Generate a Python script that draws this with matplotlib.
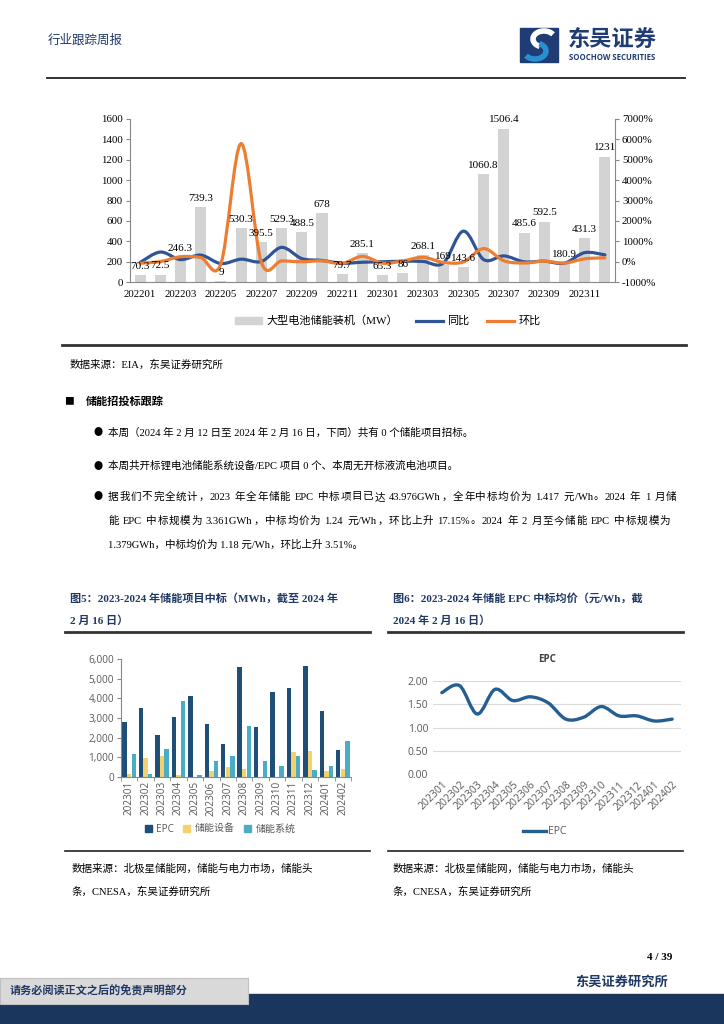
import re
import matplotlib
matplotlib.use("Agg")
import matplotlib.pyplot as plt
from matplotlib.lines import Line2D
from matplotlib.patches import Patch, Rectangle, PathPatch, Arc
from matplotlib.path import Path
from matplotlib.font_manager import FontProperties

SERIF = ['Liberation Serif', 'Noto Sans CJK SC']
SANS = ['Open Sans', 'Noto Sans CJK SC']
plt.rcParams['font.family'] = SERIF

# ---- data: top chart (EIA large battery storage installs) ----
months_22_23 = ['202201', '202202', '202203', '202204', '202205', '202206',
                '202207', '202208', '202209', '202210', '202211', '202212',
                '202301', '202302', '202303', '202304', '202305', '202306',
                '202307', '202308', '202309', '202310', '202311', '202312']
install_mw = [70.3, 72.5, 246.3, 739.3, 9, 530.3, 395.5, 529.3, 488.5, 678, 79.7, 285.1,
              65.3, 86, 268.1, 169, 143.6, 1060.8, 1506.4, 485.6, 592.5, 180.9, 431.3, 1231]
yoy_pct = [-40, 470, 100, 320, -95, 120, 5, 700, 150, 60, -80, -30,
           -7, 19, 9, -77, 1496, 100, 281, -8, 21, -73, 441, 332]
mom_pct = [-80, 3, 240, 200, -99, 5792, -25, 34, -8, 39, -88, 258,
           -77, 32, 212, -37, -15, 639, 42, -68, 22, -70, 138, 185]

# ---- data: bottom charts (2023-2024 bids) ----
months_bid = ['202301', '202302', '202303', '202304', '202305', '202306', '202307',
              '202308', '202309', '202310', '202311', '202312', '202401', '202402']
epc_mwh = [2820, 3520, 2130, 3060, 4110, 2670, 1700, 5610, 2520, 4340, 4510, 5660, 3361, 1379]
equip_mwh = [140, 990, 1090, 100, 0, 310, 490, 410, 0, 0, 1260, 1340, 320, 390]
system_mwh = [1190, 150, 1430, 3880, 120, 820, 1090, 2570, 800, 540, 1090, 370, 540, 1820]
epc_price = [1.75, 1.90, 1.29, 1.82, 1.58, 1.66, 1.53, 1.18, 1.22, 1.45, 1.25, 1.25, 1.14, 1.18]

W, H = 724, 1024
fig = plt.figure(figsize=(W / 100, H / 100), dpi=100)
fig.patch.set_facecolor('white')
renderer = fig.canvas.get_renderer()


def px_axes(x0, y0, x1, y1):
    return fig.add_axes([x0 / W, 1 - y1 / H, (x1 - x0) / W, (y1 - y0) / H])


def ftext(x, y, s, **kw):
    kw.setdefault('va', 'center')
    return fig.text(x / W, 1 - y / H, s, **kw)


def justified(x0, x1, y, line, fontsize, **kw):
    # each CJK char / latin run is a token, extra room is shared between all tokens
    tokens = re.findall(r'[A-Za-z0-9./%\-]+| |.', line)
    texts, widths = [], []
    for tk in tokens:
        if tk == ' ':
            texts.append(None)
            widths.append(fontsize * 0.25 * 100 / 72)
        else:
            t = ftext(0, y, tk, fontsize=fontsize, **kw)
            texts.append(t)
            widths.append(t.get_window_extent(renderer).width)
    gap = (x1 - x0 - sum(widths)) / max(len(tokens) - 1, 1)
    xx = x0
    for t, wd in zip(texts, widths):
        if t is not None:
            t.set_x(xx / W)
        xx += wd + gap


def hline(x0, x1, y, lw, color):
    fig.add_artist(Line2D([x0 / W, x1 / W], [1 - y / H, 1 - y / H], lw=lw, color=color))


def smooth_curve(ax, xs, ys, **kw):
    pts = list(zip(xs, ys))
    n = len(pts)
    verts = [pts[0]]
    codes = [Path.MOVETO]
    for i in range(n - 1):
        p0 = pts[max(i - 1, 0)]
        p1 = pts[i]
        p2 = pts[i + 1]
        p3 = pts[min(i + 2, n - 1)]
        c1 = (p1[0] + (p2[0] - p0[0]) / 6, p1[1] + (p2[1] - p0[1]) / 6)
        c2 = (p2[0] - (p3[0] - p1[0]) / 6, p2[1] - (p3[1] - p1[1]) / 6)
        verts += [c1, c2, p2]
        codes += [Path.CURVE4] * 3
    ax.add_patch(PathPatch(Path(verts, codes), fill=False, capstyle='round',
                           joinstyle='round', **kw))


# ---------------- header ----------------
ftext(48, 40, '行业跟踪周报', fontsize=9, color='#1F3864', family=SERIF)
fig.add_artist(Rectangle((520 / W, 1 - 62 / H), 38 / W, 34 / H, color='#1F3C74',
                         transform=fig.transFigure))
fig.add_artist(Arc((544 / W, 1 - 39 / H), 22 / W, 16 / H, theta1=20, theta2=230,
                   lw=4, color='white', transform=fig.transFigure))
fig.add_artist(Arc((535 / W, 1 - 51 / H), 22 / W, 16 / H, theta1=200, theta2=50,
                   lw=4, color='#2A8FD0', transform=fig.transFigure))
ftext(568, 40, '东吴证券', fontsize=16, color='#1F3C74', family=SANS, fontweight='bold')
ftext(569, 58, 'SOOCHOW SECURITIES', fontsize=5.6, color='#1F3C74', family=SANS,
      fontweight='bold')
hline(47, 685, 78, 1.3, '#222222')

# ---------------- top chart ----------------
ax1 = px_axes(130, 119, 615, 282)
x = list(range(len(months_22_23)))
ax1.bar(x, install_mw, width=0.55, color='#D3D3D3', zorder=1)
ax1.set_xlim(-0.5, len(x) - 0.5)
ax1.set_ylim(0, 1600)
ax1.set_yticks(range(0, 1601, 200))
ax1.set_xticks(x[::2])
ax1.set_xticklabels(months_22_23[::2])
ax1.tick_params(axis='x', length=0, labelsize=7.8, pad=6)
ax1.tick_params(axis='y', length=3, color='#888888', labelsize=7.8, pad=2)
for s in ['top', 'right']:
    ax1.spines[s].set_visible(False)
ax1.spines['left'].set_color('#888888')
ax1.spines['bottom'].set_color('#888888')

ax2 = ax1.twinx()
ax2.set_ylim(-1000, 7000)
ax2.set_yticks(range(-1000, 7001, 1000))
ax2.set_yticklabels([f'{v}%' for v in range(-1000, 7001, 1000)])
ax2.tick_params(axis='y', length=3, color='#888888', labelsize=7.8, pad=2)
for s in ['top', 'left', 'bottom']:
    ax2.spines[s].set_visible(False)
ax2.spines['right'].set_color('#888888')
smooth_curve(ax2, x, yoy_pct, edgecolor='#2F5597', lw=2.3, zorder=3)
smooth_curve(ax2, x, mom_pct, edgecolor='#ED7D31', lw=2.3, zorder=4)
for xi, v in zip(x, install_mw):
    ax2.annotate(f'{v:g}', (xi, v), xycoords=ax1.transData, xytext=(0, 3),
                 textcoords='offset points', ha='center', va='bottom', fontsize=8,
                 zorder=5)

fig.legend(handles=[Patch(color='#D3D3D3', label='大型电池储能装机（MW）'),
                    Line2D([], [], color='#2F5597', lw=2.3, label='同比'),
                    Line2D([], [], color='#ED7D31', lw=2.3, label='环比')],
           loc='center', bbox_to_anchor=(388 / W, 1 - 321 / H), ncol=3, frameon=False,
           prop=FontProperties(family=SERIF, size=8), handlelength=2.4,
           handleheight=0.6, columnspacing=1.6, handletextpad=0.4)

hline(62, 686, 345, 2, '#333333')
ftext(70, 365, '数据来源：EIA，东吴证券研究所', fontsize=7.6)

# ---------------- body text ----------------
ftext(64, 402, '■', fontsize=7, family=SANS)
ftext(86, 402, '储能招投标跟踪', fontsize=8, fontweight='bold')
body = [
    (433, '本周（2024 年 2 月 12 日至 2024 年 2 月 16 日，下同）共有 0 个储能项目招标。', True, None),
    (466, '本周共开标锂电池储能系统设备/EPC 项目 0 个、本周无开标液流电池项目。', True, None),
    (497, '据我们不完全统计，2023 年全年储能 EPC 中标项目已达 43.976GWh，全年中标均价为 1.417 元/Wh。2024 年 1 月储', True, 676),
    (521, '能 EPC 中标规模为 3.361GWh，中标均价为 1.24 元/Wh，环比上升 17.15%。2024 年 2 月至今储能 EPC 中标规模为', False, 670),
    (545, '1.379GWh，中标均价为 1.18 元/Wh，环比上升 3.51%。', False, None),
]
for yy, line, bullet, right in body:
    if bullet:
        ftext(93, yy, '●', fontsize=6.5, family=SANS)
    if right is None:
        ftext(108, yy, line, fontsize=7.6)
    else:
        justified(108, right, yy, line, 7.6)

# ---------------- figure titles ----------------
navy = '#1F3864'
ftext(70, 598, '图5：2023-2024 年储能项目中标（MWh，截至 2024 年', fontsize=8,
      fontweight='bold', color=navy)
ftext(70, 621, '2 月 16 日）', fontsize=8, fontweight='bold', color=navy)
ftext(393, 598, '图6：2023-2024 年储能 EPC 中标均价（元/Wh，截', fontsize=8,
      fontweight='bold', color=navy)
ftext(393, 621, '2024 年 2 月 16 日）', fontsize=8, fontweight='bold', color=navy)
hline(65, 370, 632, 2, '#333333')
hline(388, 683, 632, 2, '#333333')

# ---------------- bottom-left chart ----------------
ax3 = px_axes(121, 659, 351, 777)
xb = list(range(len(months_bid)))
ax3.bar([i - 0.28 for i in xb], epc_mwh, width=0.27, color='#1F4E79')
ax3.bar(xb, equip_mwh, width=0.27, color='#F4D06F')
ax3.bar([i + 0.28 for i in xb], system_mwh, width=0.27, color='#4BACC6')
ax3.set_xlim(-0.5, len(xb) - 0.5)
ax3.set_ylim(0, 6000)
ax3.set_yticks(range(0, 6001, 1000))
ax3.set_yticklabels([f'{v:,}' for v in range(0, 6001, 1000)], family=SANS)
ax3.set_xticks(xb)
ax3.set_xticklabels(months_bid, rotation=90, family=SANS)
ax3.set_xticks([i - 0.5 for i in range(len(xb) + 1)], minor=True)
ax3.tick_params(axis='x', which='major', length=0, labelsize=7.2, colors='#595959', pad=3)
ax3.tick_params(axis='x', which='minor', length=3, color='#888888')
ax3.tick_params(axis='y', length=3, color='#888888', labelsize=7.2, colors='#595959', pad=2)
for s in ['top', 'right']:
    ax3.spines[s].set_visible(False)
ax3.spines['left'].set_color('#888888')
ax3.spines['bottom'].set_color('#888888')
fig.legend(handles=[Patch(color='#1F4E79', label='EPC'),
                    Patch(color='#F4D06F', label='储能设备'),
                    Patch(color='#4BACC6', label='储能系统')],
           loc='center', bbox_to_anchor=(220 / W, 1 - 829 / H), ncol=3, frameon=False,
           prop=FontProperties(family=SANS, size=7.2), handlelength=0.7,
           handleheight=0.7, columnspacing=1.0, handletextpad=0.4, labelcolor='#595959')

# ---------------- bottom-right chart ----------------
ax4 = px_axes(433, 681, 681, 774)
ax4.set_xlim(-0.5, len(xb) - 0.5)
ax4.set_ylim(0, 2.0)
ax4.set_yticks([0, 0.5, 1.0, 1.5, 2.0])
ax4.set_yticklabels([f'{v:.2f}' for v in [0, 0.5, 1.0, 1.5, 2.0]], family=SANS)
ax4.yaxis.grid(True, color='#D9D9D9', lw=0.8)
ax4.set_axisbelow(True)
for s in ax4.spines.values():
    s.set_visible(False)
ax4.set_xticks(xb)
ax4.set_xticklabels(months_bid, rotation=45, ha='right', rotation_mode='anchor', family=SANS)
ax4.tick_params(axis='both', length=0, labelsize=7.5, colors='#595959')
ax4.tick_params(axis='x', pad=4)
smooth_curve(ax4, xb, epc_price, edgecolor='#255E91', lw=2.4, zorder=3)
ftext(547, 660, 'EPC', fontsize=7, fontweight='bold', color='#404040', family=SANS,
      ha='center')
fig.legend(handles=[Line2D([], [], color='#255E91', lw=2.4, label='EPC')],
           loc='center', bbox_to_anchor=(545 / W, 1 - 832 / H), frameon=False,
           prop=FontProperties(family=SANS, size=7.5), handlelength=2.2,
           handletextpad=0.2, labelcolor='#595959')

# ---------------- sources ----------------
hline(65, 370, 851, 1.2, '#222222')
hline(388, 683, 851, 1.2, '#222222')
for xx in (72, 393):
    ftext(xx, 869, '数据来源：北极星储能网，储能与电力市场，储能头', fontsize=7.6)
    ftext(xx, 892, '条，CNESA，东吴证券研究所', fontsize=7.6)

# ---------------- footer ----------------
ftext(672, 958, '4 / 39', fontsize=8, fontweight='bold', ha='right')
ftext(668, 982, '东吴证券研究所', fontsize=9.5, fontweight='bold', ha='right', color='#1F3864')
fig.add_artist(Rectangle((0, 0), 1, 30 / H, color='#1B365D', transform=fig.transFigure))
fig.add_artist(Rectangle((0, 1 - 1004 / H), 248 / W, 26 / H, facecolor='#D9D9D9',
                         edgecolor='#BFBFBF', lw=0.8, transform=fig.transFigure))
ftext(10, 991, '请务必阅读正文之后的免责声明部分', fontsize=8, fontweight='bold',
      color='#1F3864')

fig.savefig('out.png', dpi=100)
